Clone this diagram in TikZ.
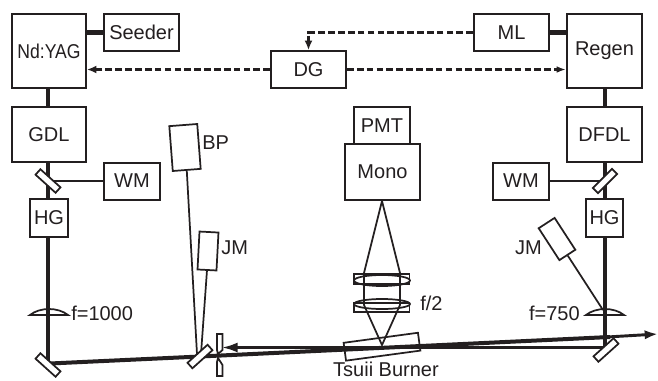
\documentclass[tikz,border=0pt]{standalone}
\usepackage{fontspec}
\setmainfont{Liberation Sans}
\usetikzlibrary{arrows.meta,positioning}
\definecolor{inkblack}{RGB}{35,31,32}
\tikzset{
  boxnode/.style={draw=inkblack,line width=1.5pt,fill=white,inner sep=0pt,text=inkblack,font=\fontsize{15}{18}\selectfont},
  tiltbox/.style={draw=inkblack,line width=1.3pt,fill=white,inner sep=0pt},
  mirrornode/.style={draw=inkblack,line width=1.3pt,fill=white,inner sep=0pt,minimum width=20.25pt,minimum height=5.5pt},
  labelnode/.style={inner sep=0pt,text=inkblack,font=\fontsize{15}{18}\selectfont},
  beam/.style={draw=inkblack,line width=3pt},
  thinbeam/.style={draw=inkblack,line width=1.3pt},
  trigger/.style={draw=inkblack,line width=1.6pt,dash pattern=on 5pt off 2.4pt}
}
\newcommand{\sizedbox}[6]{\node[boxnode,minimum width=#3*0.75pt,minimum height=#4*0.75pt] (#1) at (#5,#6) {#2};}
\begin{document}
\begin{tikzpicture}[x=0.75pt,y=-0.75pt]
  \useasboundingbox (0,0) rectangle (658,380);
  % lenses and beams first, boxes and mirrors on top
  \coordinate (yagbeam) at (48,88);
  \coordinate (beamend) at (658,334);
  \coordinate (irisend) at (221,347.5);
  \coordinate (splitspot) at (200,356.5);
  \coordinate (burnerspot) at (382,345);
  \coordinate (monospot) at (382,201);
  \coordinate (lensleft) at (364,273);
  \coordinate (lensright) at (400,273);
  \coordinate (lowleft) at (364,305);
  \coordinate (lowright) at (400,305);
  \coordinate (jmspot) at (603,310);

  \filldraw[thinbeam,fill=white] (30,315) .. controls (40,307) and (58,307) .. (68,315) -- cycle;
  \filldraw[thinbeam,fill=white] (586,315) .. controls (596,307) and (614,307) .. (624,315) -- cycle;
  \draw[beam] (48,88) -- (48,364);
  \draw[beam] (604.5,88) -- (604.5,348.5);
  \draw[thinbeam] (48,181) -- (104,181);
  \draw[thinbeam] (549,181) -- (605,181);
  \draw[beam] (50,363.5) -- (splitspot) -- (610,337);
  \draw[inkblack,line width=2.2pt,-{Latex[length=10pt,width=7pt]}] (600,337.4) -- (beamend);
  \draw[inkblack,line width=2.5pt,-{Latex[length=12.5pt,width=7.5pt]}] (605,347.5) -- (irisend);
  % focusing cone to the monochromator
  \draw[thinbeam] (monospot) -- (lensleft) -- (lowleft) -- (burnerspot) -- (lowright) -- (lensright) -- cycle;
  \draw[thinbeam] (354,274) rectangle (409.5,284);
  \draw[thinbeam] (354,303) rectangle (409.5,312);
  \draw[thinbeam] (382,280.5) ellipse [x radius=28,y radius=5.5];
  \draw[thinbeam] (382,304) ellipse [x radius=28,y radius=5];

  \sizedbox{yag}{\scalebox{0.88}[1]{Nd:YAG}}{74}{74}{49}{51}
  \sizedbox{seeder}{Seeder}{75}{37}{141.5}{32.5}
  \sizedbox{dg}{DG}{75}{37}{308.5}{69.5}
  \sizedbox{ml}{ML}{75}{37}{511.5}{32.5}
  \sizedbox{regen}{Regen}{75}{74}{604.5}{51}
  \sizedbox{gdl}{GDL}{74}{55}{49}{134.5}
  \sizedbox{dfdl}{DFDL}{75}{55}{604.5}{134.5}
  \sizedbox{wmleft}{WM}{56}{37}{132}{181}
  \sizedbox{wmright}{WM}{56}{37}{521}{181}
  \sizedbox{pmt}{PMT}{56}{37}{382}{125.5}
  \sizedbox{mono}{Mono}{75}{56}{382.5}{172}
  \sizedbox{hgleft}{HG}{38}{38}{49}{218}
  \sizedbox{hgright}{HG}{37}{38}{604.5}{218}

  \draw[beam,line width=3.2pt] (yag.east |- seeder) -- (seeder.west);
  \draw[beam,line width=3.2pt] (ml.east) -- (regen.west |- ml);
  \draw[beam] (yag.south -| yagbeam) -- (gdl.north -| yagbeam);
  \draw[beam] (regen.south) -- (dfdl.north);

  % timing lines
  \draw[trigger,-{Latex[length=7pt,width=6pt]}] (dg.west) -- (yag.east |- dg);
  \draw[trigger,-{Latex[length=7pt,width=5pt]}] (dg.east) -- (regen.west |- dg);
  \draw[trigger,-{Latex[length=7pt,width=6pt]}] (ml.west) -| (dg.north);

  % detectors
  \node[tiltbox,minimum width=21pt,minimum height=33.75pt,rotate=4.4] (bp) at (185,147.5) {};
  \node[tiltbox,minimum width=14.25pt,minimum height=28.5pt,rotate=-3] (jmleft) at (208,251) {};
  \node[tiltbox,minimum width=14.25pt,minimum height=28.5pt,rotate=33] (jmright) at (557,239) {};
  \draw[thinbeam] (bp.south) -- (197,354);
  \draw[thinbeam] (jmleft.south) -- (201,354);
  \draw[thinbeam] (jmright.south) -- (jmspot);

  % mirrors
  \node[mirrornode,rotate=-42] (mirrorA) at (48,181) {};
  \node[mirrornode,rotate=-42] (mirrorB) at (48,365) {};
  \node[mirrornode,rotate=45] (mirrorC) at (605,181) {};
  \node[mirrornode,rotate=42] (mirrorD) at (606,350) {};
  \node[mirrornode,rotate=42] (splitter) at (200,356.5) {};
  % iris
  \draw[thinbeam,fill=white] (217,334) -- (222.5,334) -- (222.5,350) -- (218,354) -- (217,350) -- cycle;
  \draw[thinbeam,fill=white] (218,358) -- (222.5,365) -- (222.5,376) -- (217,376) -- (217,362) -- cycle;
  % burner
  \node[tiltbox,fill=none,minimum width=56.25pt,minimum height=13.5pt,rotate=7.7] (burner) at (382,346.7) {};

  \node[labelnode,anchor=west] (bplabel) at (202,143) {BP};
  \node[labelnode,anchor=west] (jmlabela) at (221,248) {JM};
  \node[labelnode,anchor=east] (jmlabelb) at (542,248) {JM};
  \node[labelnode,anchor=west] (flabela) at (71,313) {f=1000};
  \node[labelnode,anchor=east] (flabelb) at (580,313) {f=750};
  \node[labelnode,anchor=west] (flabelc) at (420,303) {f/2};
  \node[labelnode,anchor=south] (burnerlabel) at (386,376.5) {Tsuii Burner};
\end{tikzpicture}
\end{document}
